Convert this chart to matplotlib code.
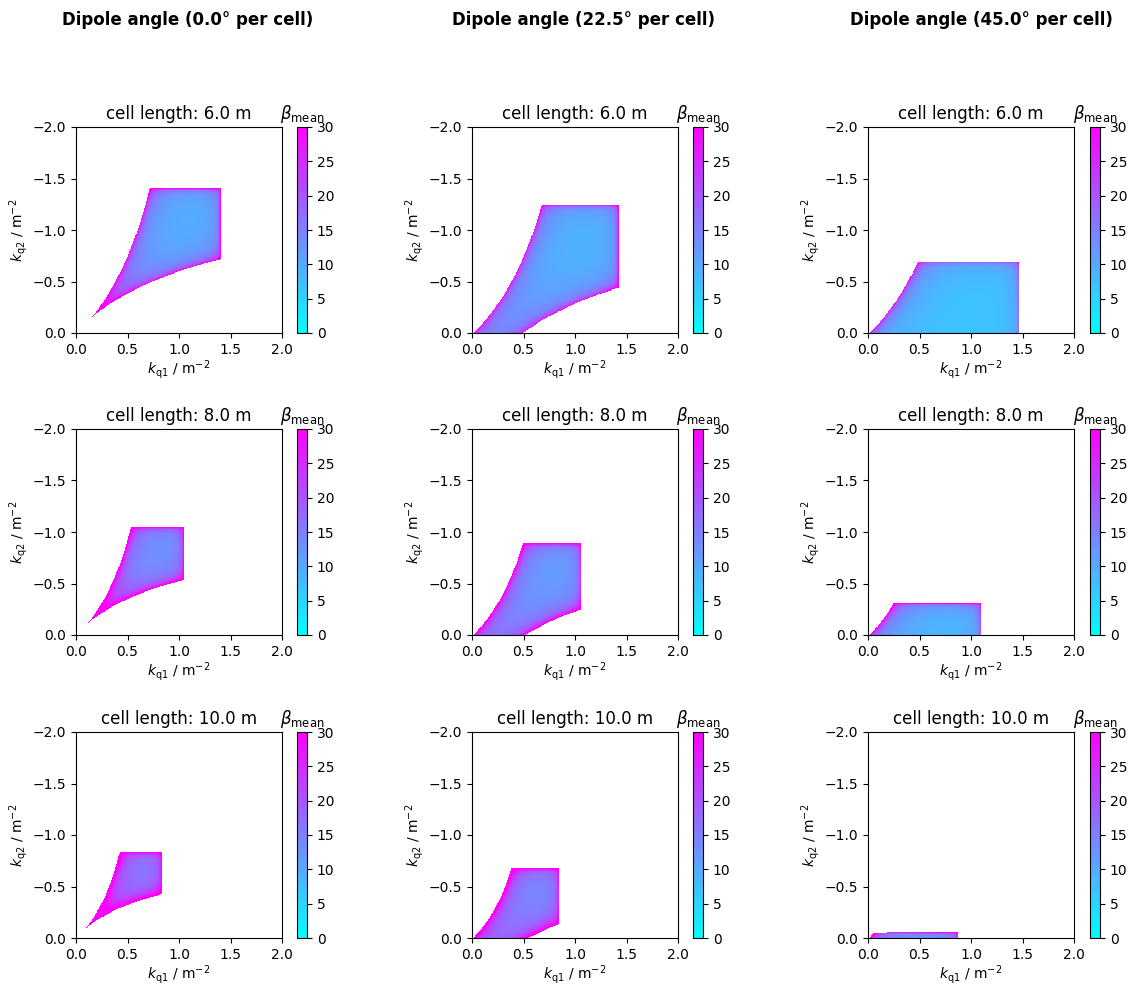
import numpy as np
import matplotlib.pyplot as plt

# scan settings
dipole_angles = [0.0, 22.5, 45.0]   # deg per cell
cell_lengths = [6.0, 8.0, 10.0]     # m
kq1 = np.linspace(0.0, 2.0, 401)    # m^-2
kq2 = np.linspace(0.0, -2.0, 401)   # m^-2
cbar_ticks = [0, 5, 10, 15, 20, 25, 30]

quad_length = 0.24     # m
dipole_length = 0.71   # m, sets the bending radius for the edge focusing
dipole_fill = 0.6      # part of each drift taken by the dipole
stab_margin = 0.025    # cut close to mu = 0
beta_lim = (0, 30)


def mul(a, b):
    return (a[0] * b[0] + a[1] * b[2], a[0] * b[1] + a[1] * b[3],
            a[2] * b[0] + a[3] * b[2], a[2] * b[1] + a[3] * b[3])


def quad(K, l):
    sk = np.sqrt(K.astype(complex) + 1e-14)
    c = np.cos(sk * l).real
    s = (np.sin(sk * l) / sk).real
    m21 = (-sk * np.sin(sk * l)).real
    return (c, s, m21, c)


def drift_slices(l, n=8):
    return [((1.0, l / n, 0.0, 1.0), l / n)] * n


def lens(f_inv):
    return [((1.0, 0.0, -f_inv, 1.0), 0.0)]


def sequence(K_f, K_d, L, edge, body):
    # QF - drift - [edge ... dipole ... edge] - drift - QD - ... (mirror)
    dr = L - quad_length
    l_out = dr * (1 - dipole_fill) / 2
    l_in = dr * dipole_fill / 2
    seq = []
    for K in (K_f, K_d):
        seq += [(quad(K, quad_length / 6), quad_length / 6)] * 6
        seq += drift_slices(l_out, 4) + lens(edge)
        seq += drift_slices(l_in, 6) + lens(body)
        seq += drift_slices(l_in, 6) + lens(edge)
        seq += drift_slices(l_out, 4)
    return seq


def mean_beta(seq):
    M = (1.0, 0.0, 0.0, 1.0)
    for m, l in seq:
        M = mul(m, M)
    cosmu = (M[0] + M[3]) / 2
    ok = (cosmu < 1 - stab_margin) & (cosmu > -1 + 1e-3)
    sinmu = np.sign(M[1]) * np.sqrt(np.clip(1 - cosmu ** 2, 1e-9, None))
    b0 = M[1] / sinmu
    a0 = (M[0] - M[3]) / (2 * sinmu)
    g0 = -M[2] / sinmu
    A = (1.0, 0.0, 0.0, 1.0)
    prev = b0
    tot = 0.0
    s = 0.0
    for m, l in seq:
        A = mul(m, A)
        b = A[0] ** 2 * b0 - 2 * A[0] * A[1] * a0 + A[1] ** 2 * g0
        tot = tot + 0.5 * (prev + b) * l
        s += l
        prev = b
    return np.where(ok, tot / s, np.nan)


K1, K2 = np.meshgrid(kq1, kq2)

W, H = 1136, 985
fig = plt.figure(figsize=(W / 100, H / 100), dpi=100)

ax_x = [76, 472, 868]
cb_x = [297, 693, 1090]
row_top = [127, 429, 732]
ax_w, ax_h, cb_w = 206, 206, 10
title_x = [188, 584, 981]

for j, ang in enumerate(dipole_angles):
    fig.text(title_x[j] / W, 1 - 20 / H, f'Dipole angle ({ang:.1f}° per cell)',
             ha='center', va='center', fontsize=12, fontweight='bold')
    theta = np.deg2rad(ang) / 2          # two dipoles per cell
    edge_v = np.tan(theta / 2) * theta / dipole_length
    for i, L in enumerate(cell_lengths):
        # horizontal: edges defocus, body focuses, no net focusing
        l_body = dipole_fill * (L - quad_length)
        edge_h = 2 * np.tan(theta / 2) * theta / l_body
        body_h = 2 * edge_h / (1 + edge_h * l_body / 2)
        bx = mean_beta(sequence(K1, K2, L, -edge_h, body_h))
        by = mean_beta(sequence(-K1, -K2, L, edge_v, 0.0))
        beta = (bx + by) / 2

        ax = fig.add_axes([ax_x[j] / W, 1 - (row_top[i] + ax_h) / H, ax_w / W, ax_h / H])
        mesh = ax.pcolormesh(kq1, kq2, beta, cmap='cool', vmin=beta_lim[0],
                             vmax=beta_lim[1], shading='nearest', rasterized=True)
        ax.set_xlim(0, 2)
        ax.set_ylim(0, -2)
        ax.set_xticks([0, 0.5, 1.0, 1.5, 2.0])
        ax.set_yticks([0, -0.5, -1.0, -1.5, -2.0])
        ax.set_title(f'cell length: {L:.1f} m', fontsize=12)
        ax.set_xlabel(r'$k_\mathrm{q1}$ / m$^{-2}$', labelpad=1)
        ax.set_ylabel(r'$k_\mathrm{q2}$ / m$^{-2}$', labelpad=2)

        cax = fig.add_axes([cb_x[j] / W, 1 - (row_top[i] + ax_h) / H, cb_w / W, ax_h / H])
        cb = fig.colorbar(mesh, cax=cax, ticks=cbar_ticks)
        cax.set_title(r'$\beta_\mathrm{mean}$', fontsize=12)

fig.savefig('out.png', dpi=100)
